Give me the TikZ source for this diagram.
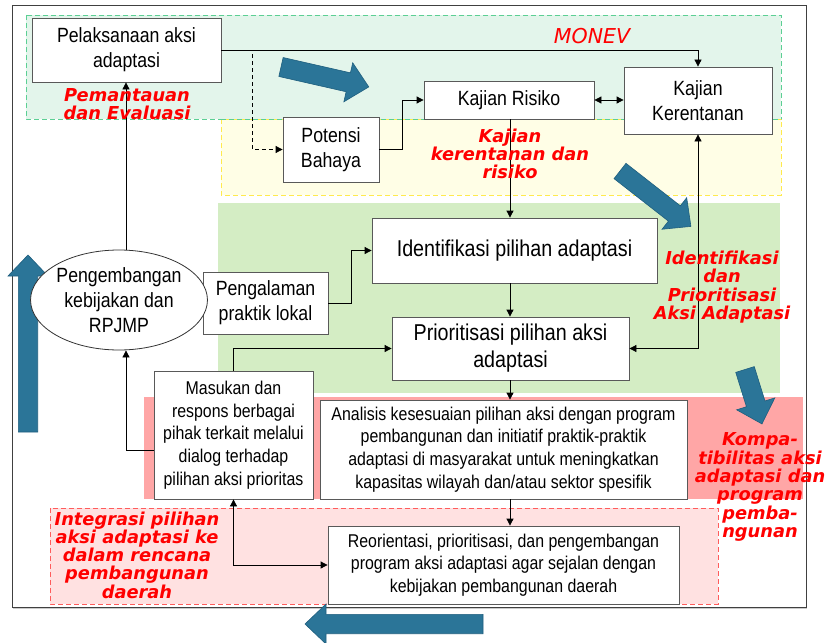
\documentclass[tikz,border=0pt]{standalone}
\usepackage{fontspec}
\setmainfont{Liberation Sans}
\newfontfamily\boxfont[FakeStretch=0.86]{Liberation Sans}
\newfontfamily\redfont{DejaVu Sans}
\usetikzlibrary{arrows.meta,shadows,calc,shapes.geometric}
\definecolor{monevfill}{HTML}{E3F5EB}
\definecolor{monevline}{HTML}{5CCF94}
\definecolor{yelfill}{HTML}{FFFEE6}
\definecolor{yelline}{HTML}{FFEA4D}
\definecolor{grnfill}{HTML}{D4EDC4}
\definecolor{pinkfill}{HTML}{FFA6A6}
\definecolor{lpinkfill}{HTML}{FFE1E1}
\definecolor{lpinkline}{HTML}{FF5C5C}
\definecolor{arrowblue}{HTML}{2B7598}
\definecolor{arrowedge}{HTML}{1E5E7E}
\definecolor{redtxt}{HTML}{FF0000}
\newcommand\bluearrow[4]{%
  \begin{scope}[shift={(#1,#2)}, rotate=#3]
    \filldraw[fill=arrowblue, draw=arrowedge, line width=0.6pt]
      (0,-9.7) -- (#4-21,-9.7) -- (#4-21,-20) -- (#4,0) -- (#4-21,20) -- (#4-21,9.7) -- (0,9.7) -- cycle;
  \end{scope}}
\tikzset{
  box/.style={draw=black!65, line width=0.8pt, fill=white, inner sep=0pt, align=center,
    drop shadow={shadow xshift=1.2pt, shadow yshift=-1.2pt, fill=black!35, opacity=0.6}},
  fA/.style={font=\boxfont\fontsize{20.6}{25}\selectfont},
  fB/.style={font=\boxfont\fontsize{22.9}{27}\selectfont},
  fC/.style={font=\boxfont\fontsize{18.5}{22.7}\selectfont},
  conn/.style={draw=black, line width=0.8pt},
  arr/.style={conn, -{Triangle[length=7pt,width=7pt]}},
  arrtwo/.style={conn, {Triangle[length=7pt,width=7pt]}-{Triangle[length=7pt,width=7pt]}},
  redlbl/.style={text=redtxt, font=\redfont\bfseries\itshape\fontsize{17.8}{18.3}\selectfont, align=center, inner sep=0pt},
}
\begin{document}
\begin{tikzpicture}[x=1pt,y=-1pt]
\useasboundingbox (0,0) rectangle (829,642);
\fill[white] (0,0) rectangle (829,642);
% frame
\draw[black!75, line width=1pt, drop shadow={shadow xshift=1pt, shadow yshift=-1.5pt, fill=black!40}] (12,6) rectangle (806,607);
\fill[white] (12.5,6.5) rectangle (805.5,606.5);
% bands
\filldraw[fill=monevfill, draw=monevline, dash pattern=on 5pt off 3pt, line width=0.8pt] (26,15) rectangle (781,119);
\filldraw[fill=yelfill, draw=yelline, dash pattern=on 5pt off 3pt, line width=0.8pt] (221,119) rectangle (781,195);
\draw[monevline, dash pattern=on 5pt off 3pt, line width=0.8pt] (221,119) -- (781,119);
\fill[grnfill] (218,203) rectangle (780,393);
\fill[pinkfill] (144,397) rectangle (803,499);
\filldraw[fill=lpinkfill, draw=lpinkline, dash pattern=on 5pt off 3pt, line width=0.8pt] (50,508) rectangle (718,604);
% big arrows
\bluearrow{281}{67}{-12.8}{90}
\bluearrow{620}{171}{-38}{90}
\bluearrow{745}{369.5}{-72.7}{57}
\bluearrow{28}{432}{90}{177}
\bluearrow{483}{624}{180}{178}
% nodes
\node[box, fA, minimum width=189pt, minimum height=64pt] (pel) at (126.5,50) {Pelaksanaan aksi\\adaptasi};
\node[box, fA, minimum width=96pt, minimum height=65pt] (pot) at (331,149.5) {Potensi\\Bahaya};
\node[box, fA, minimum width=170pt, minimum height=38pt] (ris) at (509,100) {Kajian Risiko};
\node[box, fA, minimum width=148pt, minimum height=67pt] (ker) at (698,100.5) {Kajian\\Kerentanan};
\node[box, fB, minimum width=285pt, minimum height=65pt] (idf) at (514.5,250.5) {Identifikasi pilihan adaptasi};
\node[box, fA, minimum width=125pt, minimum height=62pt] (pgl) at (265.5,303) {Pengalaman\\praktik lokal};
\node[box, fB, minimum width=237pt, minimum height=63pt] (pri) at (510.5,348.5) {Prioritisasi pilihan aksi\\adaptasi};
\node[draw=black!80, line width=0.8pt, fill=white, ellipse, inner sep=0pt, align=center, fA, minimum width=154pt, minimum height=100pt] (ell) at (119,300) {Pengembangan\\kebijakan dan\\RPJMP};
\node[box, fC, minimum width=159pt, minimum height=128pt] (mas) at (233.5,435) {Masukan dan\\respons berbagai\\pihak terkait melalui\\dialog terhadap\\pilihan aksi prioritas};
\node[box, fC, minimum width=367pt, minimum height=99pt] (ana) at (503.5,449.5) {Analisis kesesuaian pilihan aksi dengan program\\pembangunan dan initiatif praktik-praktik\\adaptasi di masyarakat untuk meningkatkan\\kapasitas wilayah dan/atau sektor spesifik};
\node[box, fC, minimum width=351pt, minimum height=78pt] (reo) at (503.5,565) {Reorientasi, prioritisasi, dan pengembangan\\program aksi adaptasi agar sejalan dengan\\kebijakan pembangunan daerah};
% helper coordinates
\coordinate (d1) at (252,0);
\coordinate (d2) at (402,0);
\coordinate (d3) at (351,0);
\coordinate (d4) at (126,0);
\coordinate (col) at (510,0);
% connectors
\draw[arr] (pel.east) -| (ker.north);
\draw[arr, dashed, dash pattern=on 4pt off 3pt] (pel.east) -| (d1 |- pot.west) -- (pot.west);
\draw[arr] (pot.east) -| (d2 |- ris.west) -- (ris.west);
\draw[arrtwo] (ris.east) -- (ker.west |- ris.east);
\draw[arr] (col |- ris.south) -- (col |- idf.north);
\draw[arr] (col |- idf.south) -- (col |- pri.north);
\draw[arr] (pgl.east) -| (d3 |- idf.west) -- (idf.west);
\draw[arrtwo] (pri.east) -| (ker.south);
\draw[arr] (col |- pri.south) -- (col |- ana.north);
\draw[arr] (col |- ana.south) -- (col |- reo.north);
\draw[arr] (mas.north) |- (pri.west);
\draw[arr] ($(mas.west)+(0,15)$) -| (d4 |- ell.south);
\draw[arr] (d4 |- ell.north) -- (d4 |- pel.south);
\draw[arrtwo] (mas.south) |- (reo.west);
% labels
\node[text=redtxt, font=\redfont\itshape\fontsize{20.5}{24}\selectfont, inner sep=0pt] (monev) at (592,36) {MONEV};
\node[redlbl] (lpem) at (127,104) {Pemantauan\\dan Evaluasi};
\node[redlbl] (lkaj) at (510,154) {Kajian\\kerentanan dan\\risiko};
\node[redlbl] (lidf) at (722,287) {Identifikasi\\dan\\Prioritisasi\\Aksi Adaptasi};
\node[redlbl] (lkom) at (760,487) {Kompa-\\tibilitas aksi\\adaptasi dan\\program\\pemba-\\ngunan};
\node[redlbl] (lint) at (137,555) {Integrasi pilihan\\aksi adaptasi ke\\dalam rencana\\pembangunan\\daerah};
\end{tikzpicture}
\end{document}
